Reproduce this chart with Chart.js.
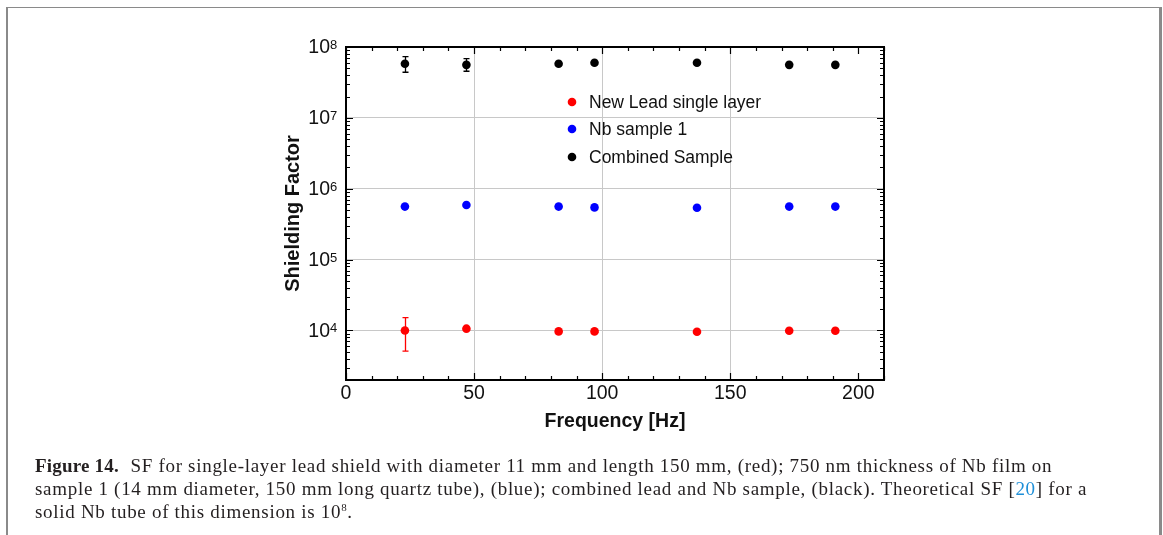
<!DOCTYPE html>
<html>
<head>
<meta charset="utf-8">
<script src="https://cdn.jsdelivr.net/npm/chart.js@4.4.1/dist/chart.umd.min.js"></script>
<style>
  html, body { margin: 0; padding: 0; background: #fff; }
  body { width: 1163px; height: 535px; position: relative; overflow: hidden; }
  #frame {
    position: absolute; left: 6px; top: 7px; width: 1151px; height: 600px;
    border-left: 2px solid #8a8a8a; border-top: 1px solid #8a8a8a; border-right: 3px solid #8a8a8a;
  }
  #wrap { position: absolute; left: 250px; top: 25px; width: 660px; height: 430px; }
  #caption {
    position: absolute; left: 35px; top: 454px; width: 1120px;
    font-family: "Liberation Serif", "DejaVu Serif", serif; font-size: 19px; line-height: 23px;
    letter-spacing: 0.7px;
    color: #231f20; white-space: nowrap;
  }
  #caption b { font-weight: bold; margin-right: 6px; letter-spacing: 0.2px; }
  #caption .ref { color: #1e8fd8; }
  #caption sup { font-size: 11px; vertical-align: 7px; line-height: 0; }
</style>
</head>
<body>
<div id="frame"></div>
<div id="wrap"><canvas id="sfChart" width="660" height="430"></canvas></div>
<div id="caption">
  <b>Figure 14.</b> SF for single-layer lead shield with diameter 11 mm and length 150 mm, (red); 750 nm thickness of Nb film on<br>
  sample 1 (14 mm diameter, 150 mm long quartz tube), (blue); combined lead and Nb sample, (black). Theoretical SF [<span class="ref">20</span>] for a<br>
  solid Nb tube of this dimension is 10<sup>8</sup>.
</div>
<script>
// Số liệu
const freq = [23, 47, 83, 97, 137, 173, 191];
const leadSF = [1.0e4, 1.06e4, 9.7e3, 9.7e3, 9.6e3, 9.9e3, 9.9e3];
const leadLo = [5.1e3, 1.02e4, null, 9.4e3, null, 9.6e3, 9.5e3];
const leadHi = [1.52e4, 1.11e4, null, 1.0e4, null, 1.02e4, 1.04e4];
const nbSF = [5.6e5, 5.9e5, 5.6e5, 5.45e5, 5.4e5, 5.6e5, 5.6e5];
const combSF = [5.8e7, 5.6e7, 5.8e7, 6.0e7, 6.0e7, 5.6e7, 5.6e7];
const combLo = [4.4e7, 4.55e7, null, null, null, null, null];
const combHi = [7.3e7, 6.85e7, null, null, null, null, null];

const seriesNames = ['New Lead single layer', 'Nb sample 1', 'Combined Sample'];
const seriesColors = ['#ff0000', '#0000ff', '#000000'];

const xTicks = [0, 50, 100, 150, 200];
const xGrid = [50, 100, 150];
const yTicks = [1e4, 1e5, 1e6, 1e7, 1e8];
const yExp = [4, 5, 6, 7, 8];

const SANS = '"Liberation Sans", Arial, Helvetica, sans-serif';

function pts(ys) {
    return freq.map((x, i) => ({ x: x, y: ys[i] }));
}

// Vẽ khung, vạch chia phụ, thanh sai số, chú thích và nhãn trục y
const decorPlugin = {
    id: 'decor',
    beforeDatasetsDraw(chart) {
        const { ctx, scales: { x, y } } = chart;
        ctx.save();
        // thanh sai số
        const errs = [[leadLo, leadHi], null, [combLo, combHi]];
        errs.forEach((e, d) => {
            if (!e) return;
            ctx.strokeStyle = seriesColors[d];
            ctx.lineWidth = 1.3;
            freq.forEach((f, i) => {
                if (e[0][i] == null) return;
                const px = Math.round(x.getPixelForValue(f)) + 0.5;
                const y1 = y.getPixelForValue(e[0][i]);
                const y2 = y.getPixelForValue(e[1][i]);
                ctx.beginPath();
                ctx.moveTo(px, y1); ctx.lineTo(px, y2);
                ctx.moveTo(px - 3, y1); ctx.lineTo(px + 3, y1);
                ctx.moveTo(px - 3, y2); ctx.lineTo(px + 3, y2);
                ctx.stroke();
            });
        });
        ctx.restore();
    },
    afterDraw(chart) {
        const { ctx, chartArea: a, scales: { x, y } } = chart;
        ctx.save();
        ctx.strokeStyle = '#000';
        ctx.lineWidth = 1.2;
        // vạch trục x (dưới và trên)
        for (let v = 0; v <= 210; v += 10) {
            const px = Math.round(x.getPixelForValue(v)) + 0.5;
            const len = v % 50 === 0 ? 7 : 4;
            ctx.beginPath();
            ctx.moveTo(px, a.bottom); ctx.lineTo(px, a.bottom - len);
            ctx.moveTo(px, a.top); ctx.lineTo(px, a.top + len);
            ctx.stroke();
        }
        // vạch trục y (log)
        for (let p = 3; p <= 7; p++) {
            for (let m = 1; m <= 9; m++) {
                const v = m * Math.pow(10, p);
                if (v < y.min || v > y.max) continue;
                const py = Math.round(y.getPixelForValue(v)) + 0.5;
                const len = m === 1 ? 7 : 4;
                ctx.beginPath();
                ctx.moveTo(a.left, py); ctx.lineTo(a.left + len, py);
                ctx.moveTo(a.right, py); ctx.lineTo(a.right - len, py);
                ctx.stroke();
            }
        }
        // khung
        ctx.lineWidth = 2;
        ctx.strokeRect(a.left, a.top, a.right - a.left, a.bottom - a.top);

        // nhãn trục y dạng 10^n
        ctx.fillStyle = '#111';
        yTicks.forEach((v, i) => {
            const py = y.getPixelForValue(v);
            const bx = a.left - 16;
            ctx.font = '19.5px ' + SANS;
            ctx.textAlign = 'right';
            ctx.textBaseline = 'middle';
            ctx.fillText('10', bx, py + 1);
            ctx.font = '13px ' + SANS;
            ctx.textAlign = 'left';
            ctx.textBaseline = 'alphabetic';
            ctx.fillText(String(yExp[i]), bx, py + 2);
        });

        // chú thích bên trong vùng vẽ
        const lx = a.left + 226, tx = a.left + 243;
        const rows = [a.top + 55, a.top + 82, a.top + 110];
        ctx.font = '17.5px ' + SANS;
        ctx.textAlign = 'left';
        ctx.textBaseline = 'middle';
        seriesNames.forEach((name, i) => {
            ctx.fillStyle = seriesColors[i];
            ctx.beginPath();
            ctx.arc(lx, rows[i], 4.3, 0, Math.PI * 2);
            ctx.fill();
            ctx.fillStyle = '#111';
            ctx.fillText(name, tx, rows[i] + 1);
        });
        ctx.restore();
    }
};

const ctx = document.getElementById('sfChart').getContext('2d');
const sfChart = new Chart(ctx, {
    type: 'scatter',
    data: {
        datasets: [
            { label: seriesNames[0], data: pts(leadSF), backgroundColor: seriesColors[0] },
            { label: seriesNames[1], data: pts(nbSF), backgroundColor: seriesColors[1] },
            { label: seriesNames[2], data: pts(combSF), backgroundColor: seriesColors[2] }
        ]
    },
    options: {
        responsive: false,
        animation: false,
        layout: { padding: { top: 22, right: 26, left: 0, bottom: 0 } },
        elements: { point: { radius: 4.3, borderWidth: 0, hoverRadius: 4.3 } },
        scales: {
            x: {
                type: 'linear',
                min: 0,
                max: 210,
                afterBuildTicks: (s) => { s.ticks = xTicks.map(v => ({ value: v })); },
                afterFit: (s) => { s.height = 75; },
                border: { display: false },
                grid: {
                    drawTicks: false,
                    color: (c) => xGrid.includes(c.tick && c.tick.value) ? '#c8c8c8' : 'rgba(0,0,0,0)'
                },
                ticks: {
                    padding: 2,
                    color: '#111',
                    font: { family: SANS, size: 19.5 },
                    maxRotation: 0
                },
                title: {
                    display: true,
                    text: 'Frequency [Hz]',
                    color: '#111',
                    font: { family: SANS, size: 19.5, weight: 'bold' },
                    padding: { top: 2, bottom: 22 }
                }
            },
            y: {
                type: 'logarithmic',
                min: 2000,
                max: 1e8,
                afterBuildTicks: (s) => { s.ticks = yTicks.map(v => ({ value: v, major: true })); },
                afterFit: (s) => { s.width = 96; },
                border: { display: false },
                grid: { drawTicks: false, color: '#c8c8c8' },
                ticks: { display: false },
                title: {
                    display: true,
                    text: 'Shielding Factor',
                    color: '#111',
                    font: { family: SANS, size: 20, weight: 'bold' },
                    padding: { top: 31, bottom: 0 }
                }
            }
        },
        plugins: {
            legend: { display: false },
            tooltip: { enabled: false }
        }
    },
    plugins: [decorPlugin]
});
</script>
</body>
</html>
